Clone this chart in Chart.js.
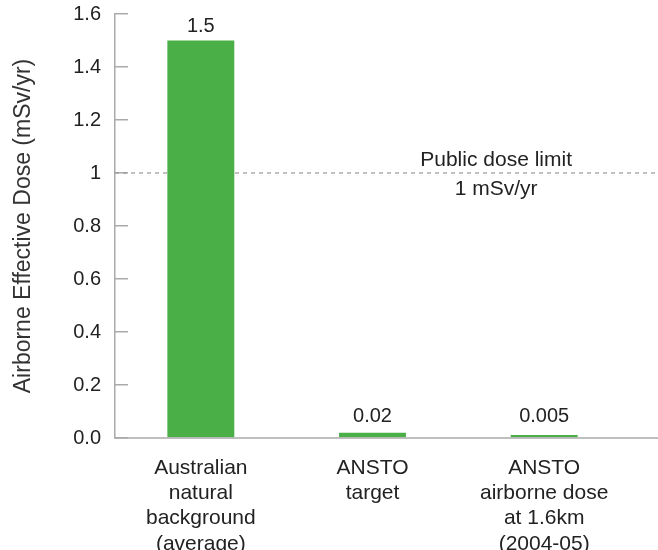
<!DOCTYPE html>
<html>
<head>
<meta charset="utf-8">
<script src="https://cdn.jsdelivr.net/npm/chart.js@4"></script>
<style>
  html, body { margin: 0; padding: 0; background: #fff; }
  #wrap { width: 658px; height: 550px; }
</style>
</head>
<body>
<div id="wrap"><canvas id="doseChart"></canvas></div>
<script>
var categories = [
  ['Australian', 'natural', 'background', '(average)'],
  ['ANSTO', 'target'],
  ['ANSTO', 'airborne dose', 'at 1.6km', '(2004-05)']
];
var doseValues = [1.5, 0.02, 0.005];
var valueLabels = ['1.5', '0.02', '0.005'];
var yTickLabels = ['0.0', '0.2', '0.4', '0.6', '0.8', '1', '1.2', '1.4', '1.6'];
var doseLimit = 1;
var limitLabels = ['Public dose limit', '1 mSv/yr'];

var fontFamily = '"Liberation Sans", Arial, sans-serif';
var textColour = '#222';

// dashed limit line + extended baseline + value labels
var extras = {
  id: 'extras',
  beforeDatasetsDraw: function(chart) {
    var ctx = chart.ctx;
    var area = chart.chartArea;
    var y = chart.scales.y.getPixelForValue(doseLimit);
    ctx.save();
    ctx.strokeStyle = '#999';
    ctx.lineWidth = 1.2;
    ctx.setLineDash([4, 4]);
    ctx.beginPath();
    ctx.moveTo(area.left, y);
    ctx.lineTo(chart.width, y);
    ctx.stroke();
    ctx.setLineDash([]);

    ctx.fillStyle = textColour;
    ctx.font = '21px ' + fontFamily;
    ctx.textAlign = 'center';
    ctx.textBaseline = 'middle';
    var lx = chart.scales.x.getPixelForValue(1.72);
    ctx.fillText(limitLabels[0], lx, y - 13);
    ctx.fillText(limitLabels[1], lx, y + 16);
    ctx.restore();
  },
  afterDatasetsDraw: function(chart) {
    var ctx = chart.ctx;
    var area = chart.chartArea;
    ctx.save();
    ctx.strokeStyle = '#aaa';
    ctx.lineWidth = 1.5;
    ctx.beginPath();
    ctx.moveTo(area.left, area.bottom);
    ctx.lineTo(chart.width, area.bottom);
    ctx.stroke();

    ctx.fillStyle = textColour;
    ctx.font = '20px ' + fontFamily;
    ctx.textAlign = 'center';
    ctx.textBaseline = 'middle';
    chart.getDatasetMeta(0).data.forEach(function(bar, i) {
      var ty = Math.min(bar.y - 14, area.bottom - 22);
      ctx.fillText(valueLabels[i], bar.x, ty);
    });
    ctx.restore();
  }
};

new Chart(document.getElementById('doseChart'), {
  type: 'bar',
  data: {
    labels: categories,
    datasets: [{
      label: 'Dose',
      data: doseValues,
      backgroundColor: '#4aaf47',
      borderWidth: 0,
      barPercentage: 0.39,
      categoryPercentage: 1,
      minBarLength: 3
    }]
  },
  options: {
    responsive: true,
    maintainAspectRatio: false,
    animation: false,
    layout: { padding: { top: 14, right: 28, left: 0, bottom: 0 } },
    plugins: {
      legend: { display: false },
      tooltip: { enabled: false }
    },
    scales: {
      x: {
        grid: { display: false, drawTicks: false },
        border: { display: false },
        ticks: {
          color: textColour,
          padding: 17,
          maxRotation: 0,
          autoSkip: false,
          font: { family: fontFamily, size: 21, lineHeight: 1.21 }
        },
        afterFit: function(scale) { scale.height = 112; }
      },
      y: {
        min: 0,
        max: 1.6,
        ticks: {
          stepSize: 0.2,
          color: textColour,
          padding: 27,
          font: { family: fontFamily, size: 20 },
          callback: function(value, index) { return yTickLabels[index]; }
        },
        grid: {
          drawOnChartArea: false,
          drawTicks: true,
          tickLength: -13,
          color: '#aaa',
          lineWidth: 1.5
        },
        border: { display: true, color: '#aaa', width: 1.5 },
        title: {
          display: true,
          text: 'Airborne Effective Dose (mSv/yr)',
          color: '#333',
          padding: { top: 10, bottom: 0 },
          font: { family: fontFamily, size: 23 }
        },
        afterFit: function(scale) {
          scale.width = 115;
          // tick padding would otherwise push the plot area down
          scale.paddingTop = 10;
          scale.paddingBottom = 10;
        }
      }
    }
  },
  plugins: [extras]
});
</script>
</body>
</html>
